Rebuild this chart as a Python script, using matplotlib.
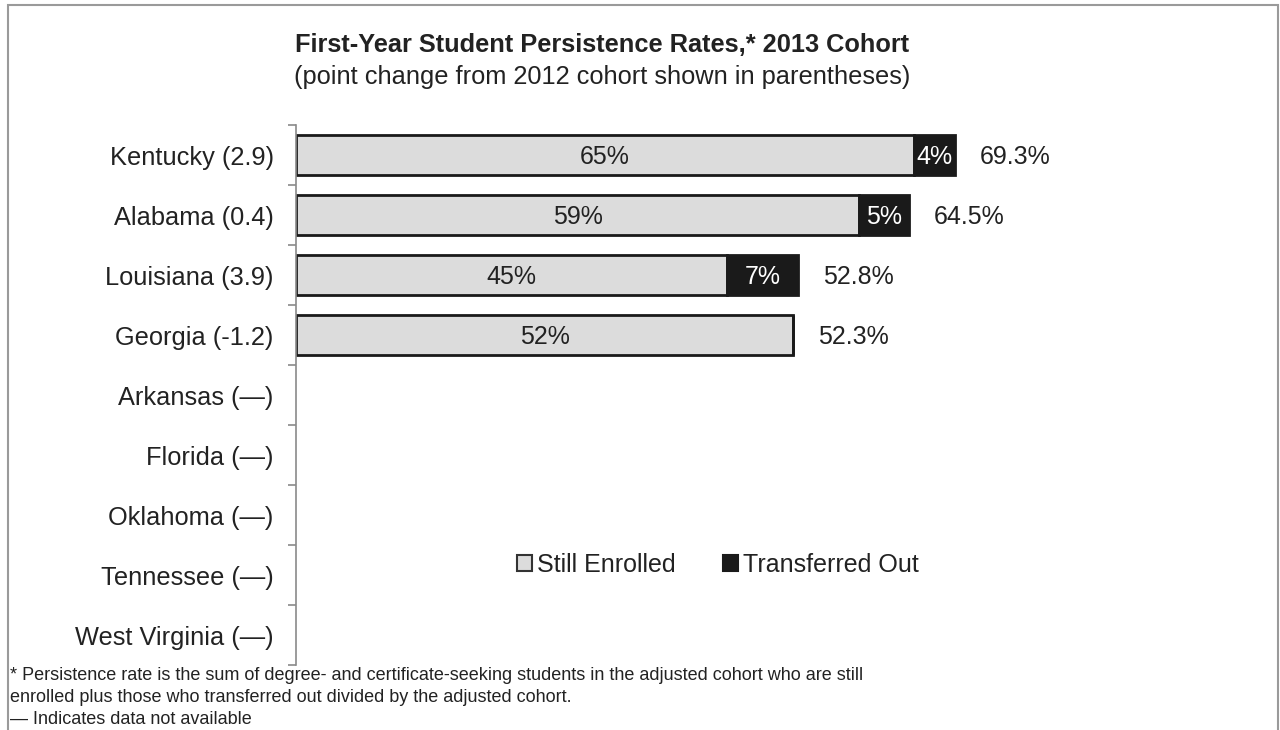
import matplotlib
matplotlib.use("Agg")
import matplotlib.pyplot as plt
from matplotlib.patches import Patch, Rectangle
import numpy as np

plt.rcParams["font.family"] = ["Liberation Sans", "DejaVu Sans"]

# ── Data ──────────────────────────────────────────────────────────────────────
states = ["Kentucky (2.9)", "Alabama (0.4)", "Louisiana (3.9)", "Georgia (-1.2)",
          "Arkansas (\u2014)", "Florida (\u2014)", "Oklahoma (\u2014)",
          "Tennessee (\u2014)", "West Virginia (\u2014)"]
still_enrolled = [65.0, 59.2, 45.3, 52.3]
transferred    = [4.3, 5.3, 7.5, 0.0]
still_labels   = ["65%", "59%", "45%", "52%"]
transfer_labels = ["4%", "5%", "7%", ""]
total_labels   = ["69.3%", "64.5%", "52.8%", "52.3%"]

W, H = 1280, 730
fig = plt.figure(figsize=(W / 100, H / 100), dpi=100)

# outer frame
fig.patches.append(Rectangle((8 / W, -0.05), 1270 / W, 1.05 - 5 / H,
                             transform=fig.transFigure, fill=False,
                             edgecolor="#9a9a9a", lw=1.5))

ax = fig.add_axes([296 / W, (H - 665) / H, 951 / W, 540 / H])

y = np.arange(len(states))
n = len(still_enrolled)
ax.barh(y[:n], still_enrolled, height=0.67, color="#dcdcdc",
        edgecolor="#1a1a1a", lw=2)
ax.barh(y[:n], transferred, left=still_enrolled, height=0.67,
        color="#1a1a1a", edgecolor="#1a1a1a", lw=2)

for i in range(n):
    ax.text(still_enrolled[i] / 2, y[i], still_labels[i], ha="center",
            va="center_baseline", fontsize=18, color="#222222")
    if transfer_labels[i]:
        ax.text(still_enrolled[i] + transferred[i] / 2, y[i], transfer_labels[i],
                ha="center", va="center_baseline", fontsize=18, color="white")
    ax.text(still_enrolled[i] + transferred[i] + 2.6, y[i], total_labels[i],
            ha="left", va="center_baseline", fontsize=18, color="#222222")

ax.set_xlim(0, 100)
ax.set_ylim(len(states) - 0.5, -0.5)
ax.set_yticks(y)
ax.set_yticklabels(states, fontsize=18.3, color="#222222")
ax.set_yticks(np.arange(-0.5, len(states)), minor=True)
ax.tick_params(axis="y", which="major", length=0, pad=16)
ax.tick_params(axis="y", which="minor", length=6, color="#8a8a8a", width=1.2)
ax.set_xticks([])
for s in ["top", "right", "bottom"]:
    ax.spines[s].set_visible(False)
ax.spines["left"].set_color("#8a8a8a")
ax.spines["left"].set_linewidth(1.2)

handles = [Patch(facecolor="#dcdcdc", edgecolor="#333333", lw=1.5, label="Still Enrolled"),
           Patch(facecolor="#1a1a1a", edgecolor="#1a1a1a", lw=1.5, label="Transferred Out")]
ax.legend(handles=handles, loc="center", bbox_to_anchor=(0.444, 0.185), ncol=2,
          frameon=False, fontsize=18, handlelength=0.6, handleheight=0.6,
          handletextpad=0.2, columnspacing=1.9, labelcolor="#222222")

fig.text(602 / W, 1 - 45 / H, "First-Year Student Persistence Rates,* 2013 Cohort",
         ha="center", va="center", fontsize=18.3, fontweight="bold", color="#222222")
fig.text(602 / W, 1 - 77 / H, "(point change from 2012 cohort shown in parentheses)",
         ha="center", va="center", fontsize=18.3, color="#222222")

foot = ["* Persistence rate is the sum of degree- and certificate-seeking students in the adjusted cohort who are still",
        "enrolled plus those who transferred out divided by the adjusted cohort.",
        "\u2014 Indicates data not available"]
for k, line in enumerate(foot):
    fig.text(10 / W, 1 - (676 + 21.5 * k) / H, line, ha="left", va="center",
             fontsize=13, color="#222222")

fig.savefig("out.png", dpi=100)
